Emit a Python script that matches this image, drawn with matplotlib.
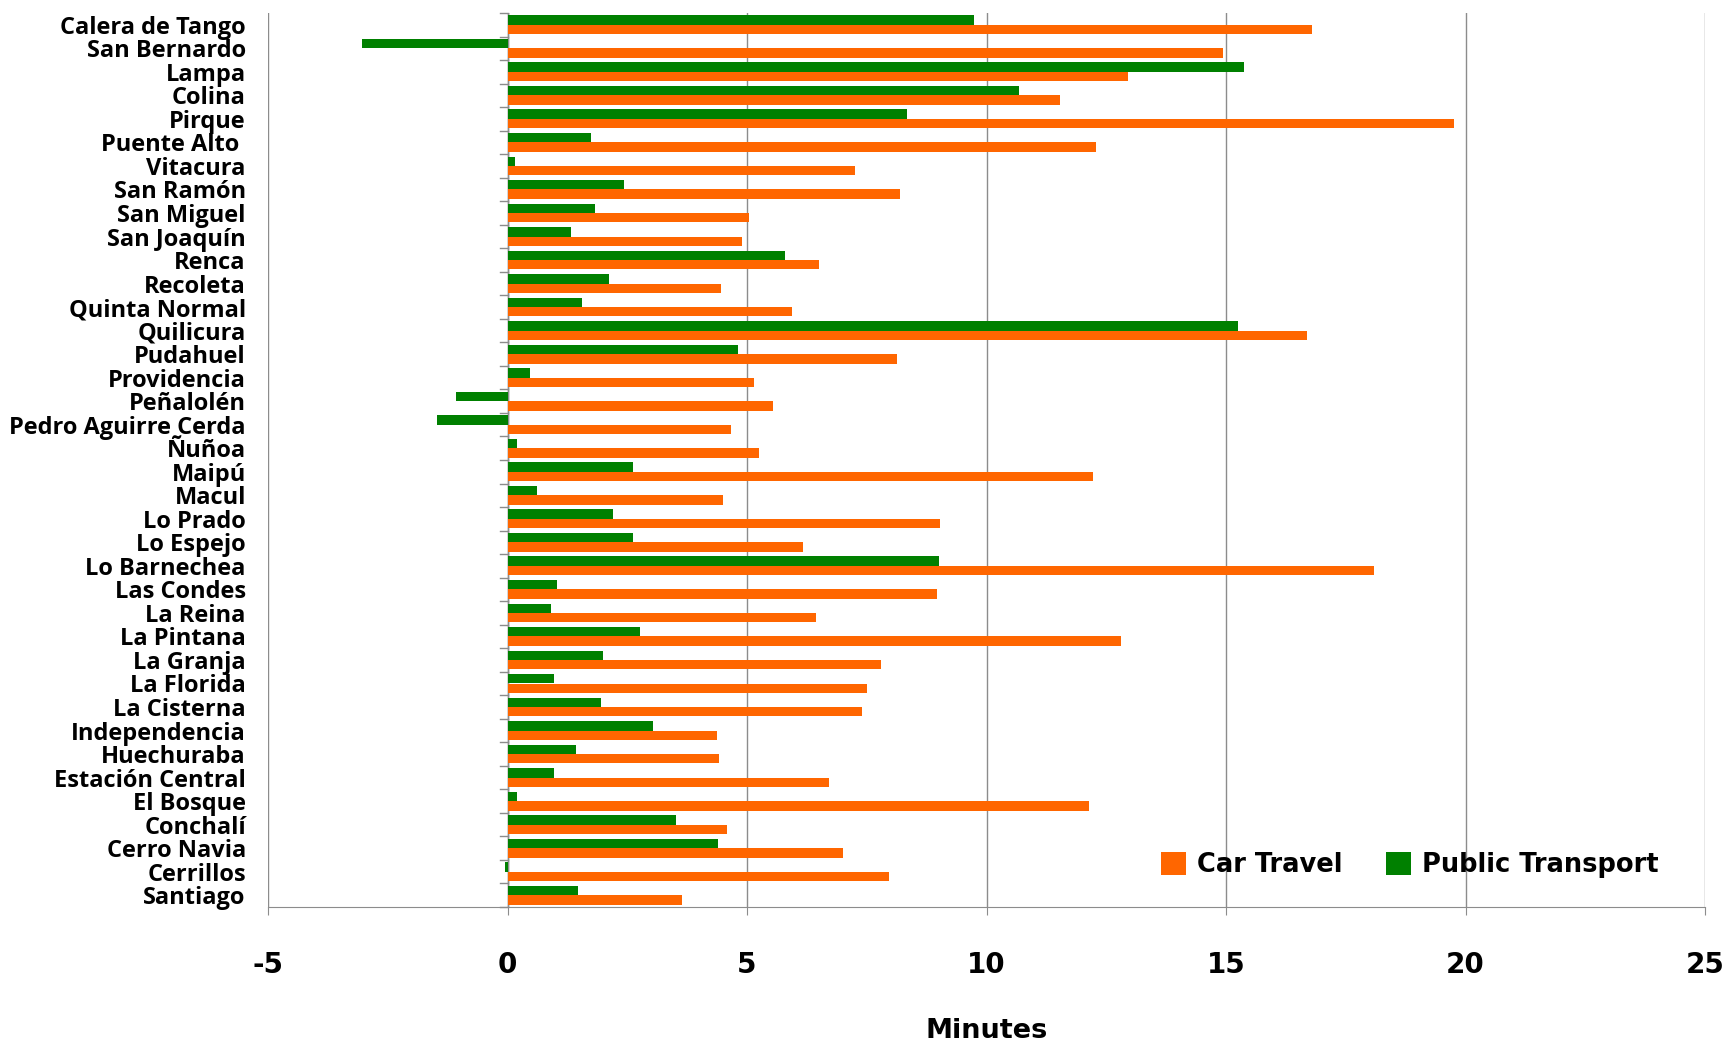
import matplotlib
matplotlib.use("Agg")
import matplotlib.pyplot as plt
from matplotlib import font_manager
import numpy as np

comunas = ["Calera de Tango", "San Bernardo", "Lampa", "Colina", "Pirque", "Puente Alto ",
           "Vitacura", "San Ramón", "San Miguel", "San Joaquín", "Renca", "Recoleta",
           "Quinta Normal", "Quilicura", "Pudahuel", "Providencia", "Peñalolén",
           "Pedro Aguirre Cerda", "Ñuñoa", "Maipú", "Macul", "Lo Prado", "Lo Espejo",
           "Lo Barnechea", "Las Condes", "La Reina", "La Pintana", "La Granja", "La Florida",
           "La Cisterna", "Independencia", "Huechuraba", "Estación Central", "El Bosque",
           "Conchalí", "Cerro Navia", "Cerrillos", "Santiago"]

car_travel = [16.8, 14.93, 12.96, 11.54, 19.77, 12.29, 7.25, 8.19, 5.04, 4.9, 6.5, 4.46,
              5.94, 16.69, 8.13, 5.15, 5.54, 4.67, 5.25, 12.23, 4.5, 9.02, 6.17, 18.1,
              8.96, 6.44, 12.81, 7.79, 7.5, 7.4, 4.38, 4.42, 6.71, 12.13, 4.58, 7.0,
              7.96, 3.65]

public_transport = [9.73, -3.04, 15.37, 10.67, 8.33, 1.74, 0.15, 2.43, 1.83, 1.33, 5.79,
                    2.12, 1.56, 15.25, 4.81, 0.48, -1.07, -1.47, 0.2, 2.62, 0.62, 2.2,
                    2.61, 9.0, 1.03, 0.9, 2.77, 1.99, 0.98, 1.96, 3.04, 1.44, 0.98, 0.2,
                    3.52, 4.39, -0.05, 1.48]

x_ticks = [-5, 0, 5, 10, 15, 20, 25]
series_names = ["Car Travel", "Public Transport"]
orange = "#FF6600"
green = "#008000"
grid_gray = "#8C8C8C"

available = {f.name for f in font_manager.fontManager.ttflist}
label_font = "DejaVu Sans"
for cand in ["Liberation Sans Narrow", "Open Sans", "Roboto", "DejaVu Sans"]:
    if cand in available:
        label_font = cand
        break

W, H, DPI = 1722, 1041, 100
fig = plt.figure(figsize=(W / DPI, H / DPI), dpi=DPI)
ax = fig.add_axes([268 / W, 1 - 907 / H, (1705 - 268) / W, (907 - 13) / H])

n = len(comunas)
y = np.arange(n)
bh = 0.4
ax.barh(y + bh / 2, car_travel, height=bh, color=orange, label=series_names[0], zorder=3)
ax.barh(y - bh / 2, public_transport, height=bh, color=green, label=series_names[1], zorder=3)

ax.set_xlim(x_ticks[0], x_ticks[-1])
ax.set_ylim(n - 0.5, -0.5)
ax.set_xticks(x_ticks)
ax.set_xticklabels([str(t) for t in x_ticks], fontsize=20, fontweight="bold",
                   family="DejaVu Sans")
ax.tick_params(axis="x", length=6, color=grid_gray, pad=26)
ax.xaxis.grid(True, color=grid_gray, linewidth=1.0, zorder=0)
ax.set_axisbelow(True)

ax.set_yticks(y)
ax.set_yticklabels(comunas, fontsize=17, fontweight="bold", family=label_font)
ax.tick_params(axis="y", length=0, pad=16)

# category axis line at zero with boundary tick marks
ax.axvline(0, color=grid_gray, linewidth=1.0, zorder=2)
for b in np.arange(n + 1) - 0.5:
    ax.plot([-0.16, 0], [b, b], color=grid_gray, linewidth=1.0, zorder=2, clip_on=False)

for s in ["top", "right", "left"]:
    ax.spines[s].set_visible(False)
ax.spines["bottom"].set_color(grid_gray)

ax.set_xlabel("Minutes", fontsize=19.5, fontweight="bold", family="DejaVu Sans", labelpad=28)

leg = ax.legend(loc="center", bbox_to_anchor=(0.8185, 1 - 865 / H),
                bbox_transform=fig.transFigure, ncol=2, frameon=False,
                prop={"family": "DejaVu Sans", "weight": "bold", "size": 18.5},
                handlelength=1.0, handleheight=1.0, handletextpad=0.4, columnspacing=1.7)

fig.savefig("out.png", dpi=DPI)
